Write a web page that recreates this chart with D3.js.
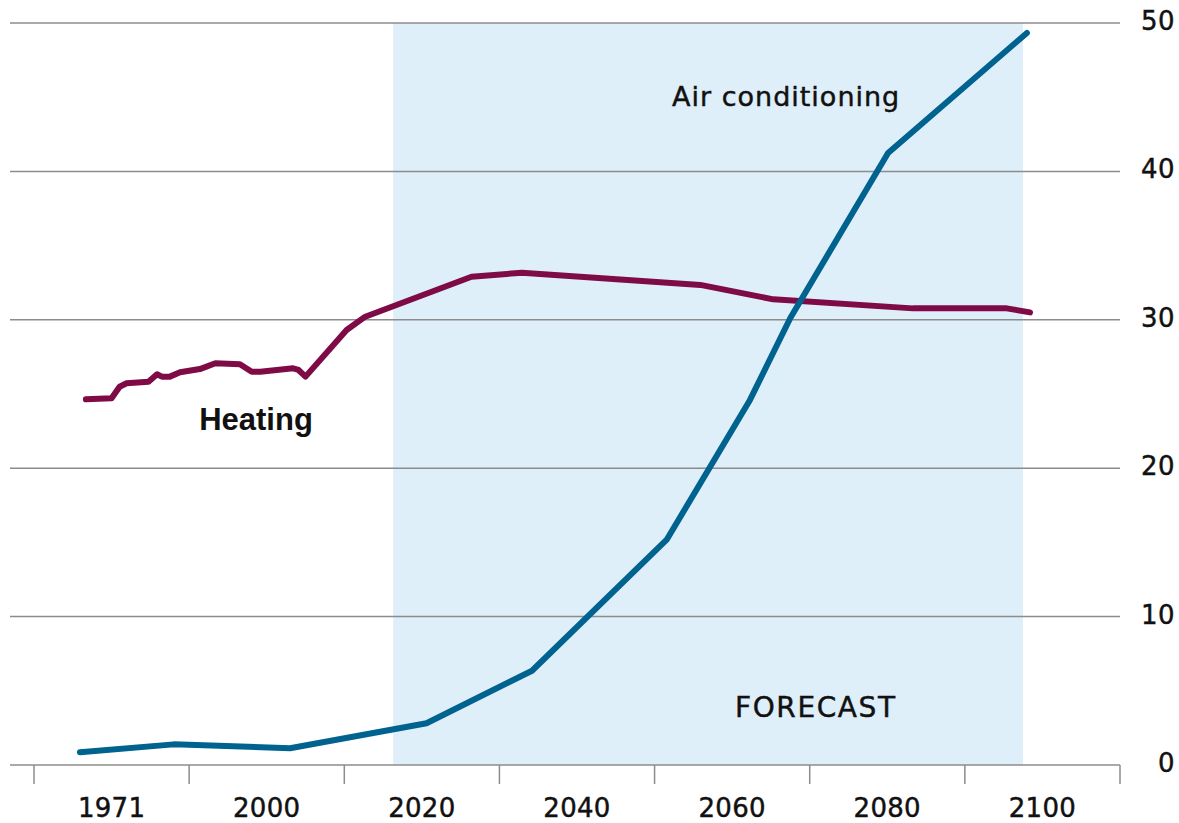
<!DOCTYPE html>
<html>
<head>
<meta charset="utf-8">
<script src="https://cdn.jsdelivr.net/npm/d3@7"></script>
<style>
  html, body { margin: 0; padding: 0; background: #ffffff; }
  svg { display: block; }
  text { font-family: "DejaVu Sans", Verdana, sans-serif; fill: #111; stroke: #111; stroke-width: 0.45px; }
  text.bold-label { font-family: "Liberation Sans", Arial, Helvetica, sans-serif; stroke: none; }
</style>
</head>
<body>
<svg id="chart" width="1179" height="823"></svg>
<script>
// Axis labels (one per band along the bottom) and the value ticks on the right
const xTickYears = [1971, 2000, 2020, 2040, 2060, 2080, 2100];
const yTickValues = [0, 10, 20, 30, 40, 50];

// Forecast period shading
const forecastSpan = [2016.3, 2097.5];

// Energy demand series
const heatingYears = [1966.2, 1971.0, 1972.5, 1973.8, 1977.9, 1979.5, 1980.4, 1981.9, 1983.8, 1987.5,
  1990.4, 1995.0, 1997.2, 1998.8, 2003.4, 2004.1, 2005.0, 2010.3, 2012.7, 2026.4,
  2032.9, 2055.9, 2065.3, 2083.3, 2095.4, 2098.4];
const heatingValues = [24.64, 24.71, 25.49, 25.72, 25.83, 26.33, 26.17, 26.17, 26.46, 26.68,
  27.07, 27.00, 26.50, 26.50, 26.73, 26.62, 26.17, 29.31, 30.21, 32.90,
  33.17, 32.35, 31.38, 30.77, 30.77, 30.50];

const coolingYears = [1965.1, 1982.6, 2003.0, 2020.6, 2034.2, 2051.6, 2062.3, 2067.5, 2080.1, 2098.0];
const coolingValues = [0.86, 1.39, 1.13, 2.81, 6.35, 15.21, 24.60, 30.12, 41.24, 49.33];

const svg = d3.select("#chart");

// Bottom axis: equal-width bands, one per labelled year, tick marks on the band edges
const band = d3.scaleBand().domain(xTickYears).range([34, 1120]).padding(0);
const x = d3.scaleLinear()
  .domain(xTickYears)
  .range(xTickYears.map(yr => band(yr) + band.bandwidth() / 2));
const y = d3.scaleLinear().domain([0, 50]).range([765, 23]);

const gridLeft = 10, gridRight = 1120;

// Forecast shading
svg.append("rect")
  .attr("x", x(forecastSpan[0]))
  .attr("y", y(50))
  .attr("width", x(forecastSpan[1]) - x(forecastSpan[0]))
  .attr("height", y(0) - y(50))
  .attr("fill", "#dfeffa");

// Horizontal grid lines
svg.append("g").selectAll("line")
  .data(yTickValues)
  .join("line")
  .attr("x1", gridLeft).attr("x2", gridRight)
  .attr("y1", d => y(d)).attr("y2", d => y(d))
  .attr("stroke", "#8c8c8c")
  .attr("stroke-width", 1.5);

// Right-hand value labels
svg.append("g").selectAll("text")
  .data(yTickValues)
  .join("text")
  .attr("x", 1175)
  .attr("y", d => y(d) - 2)
  .attr("text-anchor", "end")
  .attr("dominant-baseline", "central")
  .attr("font-size", 26)
  .attr("letter-spacing", 0.5)
  .text(d => d);

// Band-edge tick marks below the baseline
const edges = xTickYears.map(yr => band(yr)).concat([band.range()[1]]);
svg.append("g").selectAll("line")
  .data(edges)
  .join("line")
  .attr("x1", d => d).attr("x2", d => d)
  .attr("y1", y(0)).attr("y2", y(0) + 19)
  .attr("stroke", "#8c8c8c")
  .attr("stroke-width", 1.5);

// Year labels centred in each band
svg.append("g").selectAll("text")
  .data(xTickYears)
  .join("text")
  .attr("x", d => x(d))
  .attr("y", 817)
  .attr("text-anchor", "middle")
  .attr("font-size", 26)
  .attr("letter-spacing", 0.3)
  .text(d => d);

// Series lines
const line = d3.line()
  .x(d => x(d[0]))
  .y(d => y(d[1]));

svg.append("path")
  .datum(d3.zip(heatingYears, heatingValues))
  .attr("d", line)
  .attr("fill", "none")
  .attr("stroke", "#7e0b46")
  .attr("stroke-width", 6)
  .attr("stroke-linecap", "round")
  .attr("stroke-linejoin", "round");

svg.append("path")
  .datum(d3.zip(coolingYears, coolingValues))
  .attr("d", line)
  .attr("fill", "none")
  .attr("stroke", "#00628f")
  .attr("stroke-width", 6)
  .attr("stroke-linecap", "round")
  .attr("stroke-linejoin", "round");

// Series and period labels
svg.append("text")
  .attr("class", "bold-label")
  .attr("x", x(1998.0)).attr("y", y(22.57))
  .attr("text-anchor", "middle")
  .attr("font-size", 31)
  .attr("font-weight", "bold")
  .text("Heating");

svg.append("text")
  .attr("x", 672).attr("y", y(44.41))
  .attr("font-size", 27)
  .attr("letter-spacing", 1)
  .text("Air conditioning");

svg.append("text")
  .attr("x", 735).attr("y", y(3.24))
  .attr("font-size", 28)
  .attr("letter-spacing", 1.6)
  .text("FORECAST");
</script>
</body>
</html>
